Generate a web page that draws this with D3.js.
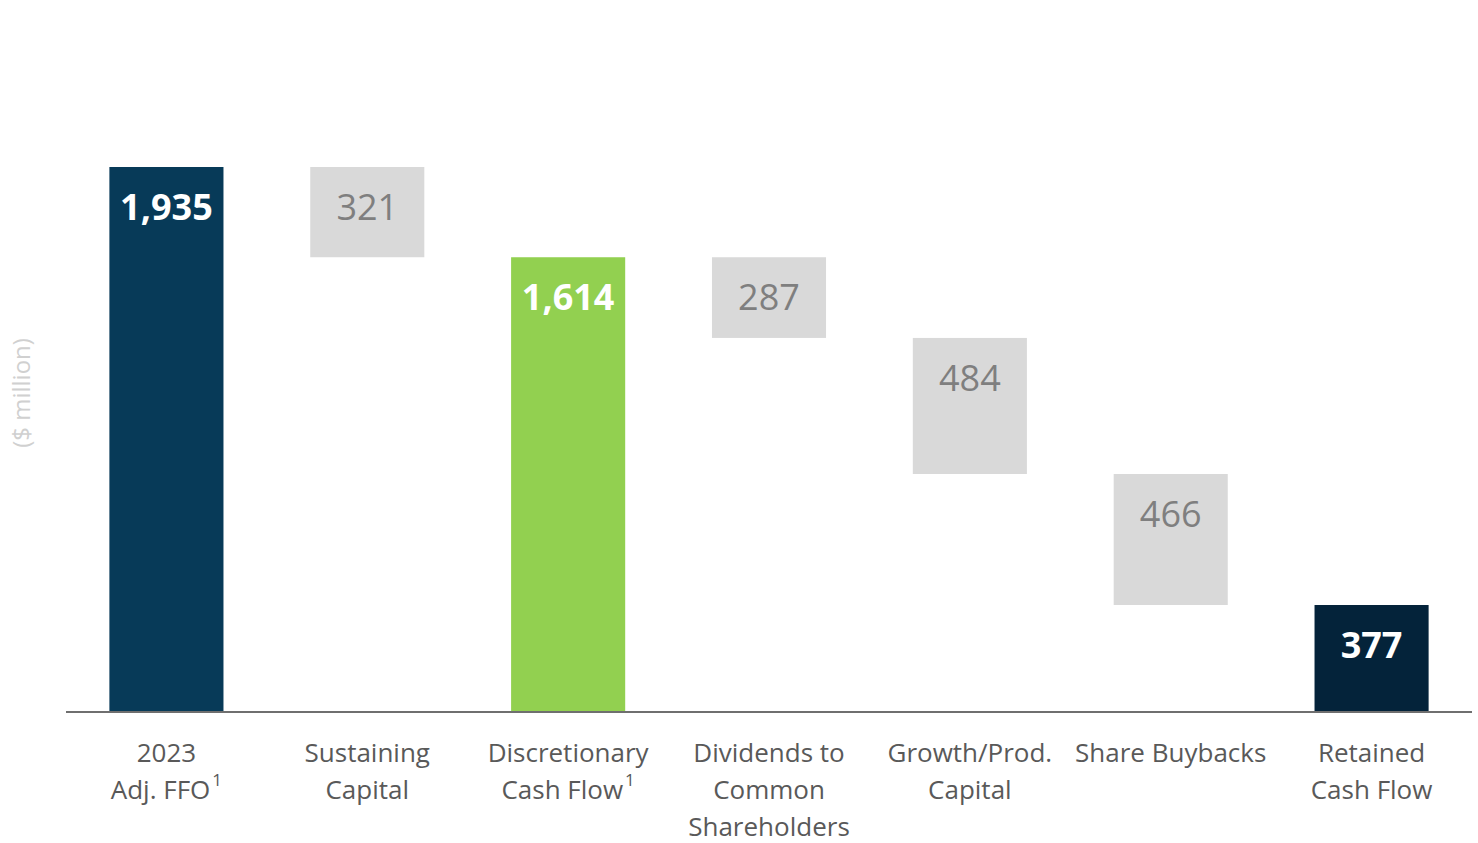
<!DOCTYPE html>
<html lang="en">
<head>
<meta charset="UTF-8">
<script src="https://d3js.org/d3.v7.min.js"></script>
<style>
  body { margin: 0; background: #fff; }
  svg { font-family: "Open Sans", "Noto Sans", sans-serif; }
</style>
</head>
<body>
<div id="plot"></div>
<script>
// data
const categories = ["2023 Adj. FFO", "Sustaining Capital", "Discretionary Cash Flow", "Dividends to Common Shareholders", "Growth/Prod. Capital", "Share Buybacks", "Retained Cash Flow"];
const labelLines = [["2023", "Adj. FFO"], ["Sustaining", "Capital"], ["Discretionary", "Cash Flow"], ["Dividends to", "Common", "Shareholders"], ["Growth/Prod.", "Capital"], ["Share Buybacks"], ["Retained", "Cash Flow"]];
const footnoted = [true, false, true, false, false, false, false];
const values = [1935, 321, 1614, 287, 484, 466, 377];
const kinds = ["total", "decrease", "subtotal", "decrease", "decrease", "decrease", "final"];

const colors = {total: "#073a58", decrease: "#d9d9d9", subtotal: "#92d050", final: "#04233a"};
const textColors = {total: "#ffffff", decrease: "#7f7f7f", subtotal: "#ffffff", final: "#ffffff"};

const width = 1478, height = 843;
const baseY = 711, topY = 167;
const left = 66, right = 1472;

const svg = d3.select("#plot").append("svg")
  .attr("width", width)
  .attr("height", height);

// waterfall positions
let running = 0;
const bars = categories.map((c, i) => {
  const v = values[i], k = kinds[i];
  let lo, hi;
  if (k === "decrease") { hi = running; lo = running - v; running = lo; }
  else { lo = 0; hi = v; running = v; }
  return {cat: c, value: v, kind: k, lo: lo, hi: hi, i: i};
});

const x = d3.scaleBand()
  .domain(categories)
  .range([left, right])
  .paddingInner(0.432)
  .paddingOuter(0.216);

const y = d3.scaleLinear()
  .domain([0, d3.max(values)])
  .range([baseY, topY]);

svg.append("g")
  .selectAll("rect")
  .data(bars)
  .join("rect")
    .attr("x", d => x(d.cat))
    .attr("y", d => y(d.hi))
    .attr("width", x.bandwidth())
    .attr("height", d => y(d.lo) - y(d.hi))
    .attr("fill", d => colors[d.kind]);

svg.append("g")
  .selectAll("text")
  .data(bars)
  .join("text")
    .attr("x", d => x(d.cat) + x.bandwidth() / 2)
    .attr("y", d => y(d.hi) + 53)
    .attr("text-anchor", "middle")
    .style("font-size", "36px")
    .style("font-weight", d => d.kind === "decrease" ? 400 : 700)
    .attr("fill", d => textColors[d.kind])
    .text(d => d3.format(",")(d.value));

// baseline
svg.append("line")
  .attr("x1", left).attr("x2", right)
  .attr("y1", baseY + 1).attr("y2", baseY + 1)
  .attr("stroke", "#6f6f6f")
  .attr("stroke-width", 2);

// category labels
const labels = svg.append("g")
  .selectAll("text")
  .data(bars)
  .join("text")
    .attr("text-anchor", "middle")
    .attr("fill", "#595959")
    .style("font-size", "26px");

labels.each(function(d) {
  const t = d3.select(this);
  const cx = x(d.cat) + x.bandwidth() / 2;
  labelLines[d.i].forEach((line, j) => {
    const last = j === labelLines[d.i].length - 1;
    t.append("tspan")
      .attr("x", cx)
      .attr("y", 762 + j * 37)
      .text(line);
    if (last && footnoted[d.i]) {
      t.append("tspan")
        .attr("dx", 2)
        .attr("dy", -13)
        .style("font-size", "17px")
        .text("1");
    }
  });
});

svg.append("text")
  .attr("transform", "translate(30,393) rotate(-90)")
  .attr("text-anchor", "middle")
  .attr("fill", "#d0d0d0")
  .style("font-size", "24px")
  .text("($ million)");
</script>
</body>
</html>
